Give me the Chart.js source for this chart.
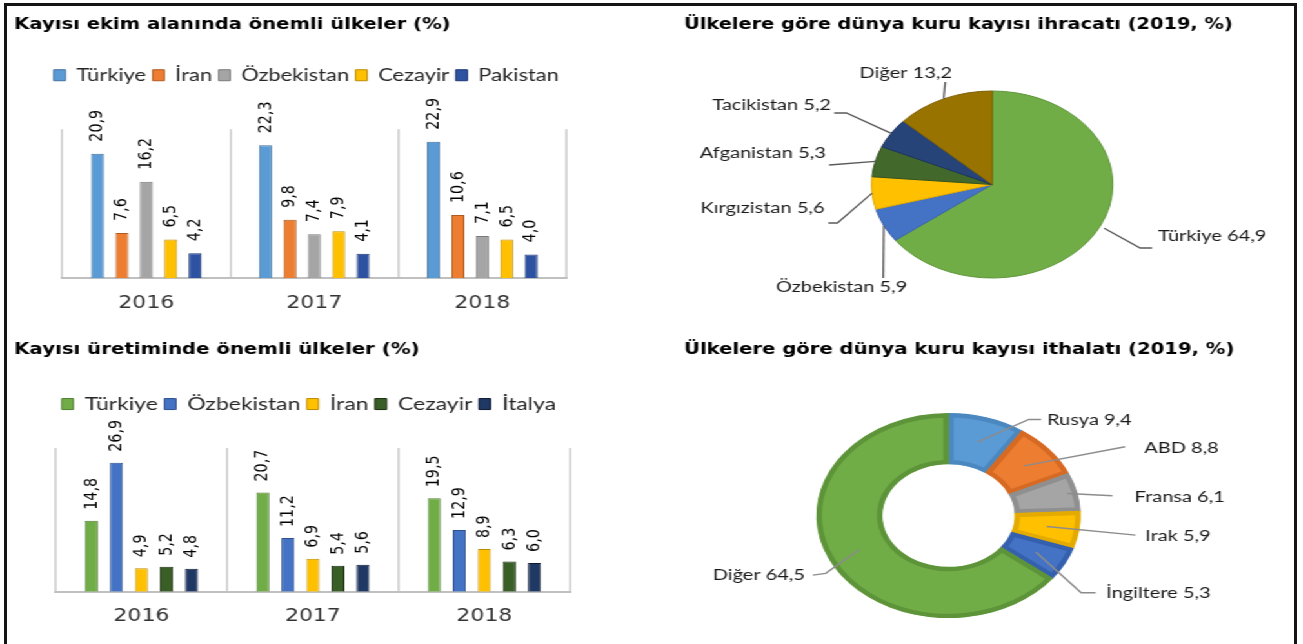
<!DOCTYPE html>
<html><head><meta charset="utf-8">
<script src="https://cdn.jsdelivr.net/npm/chart.js@4.4.1/dist/chart.umd.min.js"></script>
<style>
html,body{margin:0;padding:0;background:#fff;overflow:hidden;width:1303px;height:644px;}
#stage{position:absolute;left:0;top:0;width:1010px;height:700px;transform:scaleX(1.29);transform-origin:0 0;}
#stage canvas{position:absolute;}
#frame{position:absolute;left:4px;top:3px;width:1293px;height:720px;border:3px solid #141414;box-sizing:border-box;pointer-events:none;}
</style></head><body>
<div id="stage">
<canvas id="c1" width="464" height="320" style="left:0px;top:0px"></canvas>
<canvas id="c3" width="468" height="324" style="left:0px;top:320px"></canvas>
<canvas id="c2" width="504" height="330" style="left:503.9px;top:0px"></canvas>
<canvas id="c4" width="504" height="347" style="left:503.9px;top:320px"></canvas>
</div>
<div id="frame"></div>
<script>
// ---------- DATA ----------
const years = ['2016', '2017', '2018'];

const ekimCountries = ['Türkiye', 'İran', 'Özbekistan', 'Cezayir', 'Pakistan'];
const ekimTurkiye    = [20.9, 22.3, 22.9];
const ekimIran       = [7.6, 9.8, 10.6];
const ekimOzbekistan = [16.2, 7.4, 7.1];
const ekimCezayir    = [6.5, 7.9, 6.5];
const ekimPakistan   = [4.2, 4.1, 4.0];

const uretimCountries = ['Türkiye', 'Özbekistan', 'İran', 'Cezayir', 'İtalya'];
const uretimTurkiye    = [14.8, 20.7, 19.5];
const uretimOzbekistan = [26.9, 11.2, 12.9];
const uretimIran       = [4.9, 6.9, 8.9];
const uretimCezayir    = [5.2, 5.4, 6.3];
const uretimItalya     = [4.8, 5.6, 6.0];

const ihracatLabels = ['Türkiye', 'Özbekistan', 'Kırgızistan', 'Afganistan', 'Tacikistan', 'Diğer'];
const ihracatValues = [64.9, 5.9, 5.6, 5.3, 5.2, 13.2];

const ithalatLabels = ['Rusya', 'ABD', 'Fransa', 'Irak', 'İngiltere', 'Diğer'];
const ithalatValues = [9.4, 8.8, 6.1, 5.9, 5.3, 64.5];

const titles = [
  'Kayısı ekim alanında önemli ülkeler (%)',
  'Ülkelere göre dünya kuru kayısı ihracatı (2019, %)',
  'Kayısı üretiminde önemli ülkeler (%)',
  'Ülkelere göre dünya kuru kayısı ithalatı (2019, %)'
];

// ---------- STYLES ----------
const fmt = v => v.toFixed(1).replace('.', ',');
const titleFont = size => ({family: 'DejaVu Sans', size: size, weight: 'bold', lineHeight: 1.2});

const barLabelPlugin = {
  id: 'barLabels',
  afterDatasetsDraw(chart, args, opts) {
    const ctx = chart.ctx;
    ctx.save();
    ctx.font = opts.font;
    ctx.fillStyle = '#000';
    ctx.textAlign = 'left';
    ctx.textBaseline = 'middle';
    chart.data.datasets.forEach((ds, di) => {
      chart.getDatasetMeta(di).data.forEach((bar, i) => {
        ctx.save();
        ctx.translate(bar.x, bar.y - opts.gap);
        ctx.rotate(-Math.PI / 2);
        ctx.fillText(fmt(ds.data[i]), 0, 0);
        ctx.restore();
      });
    });
    ctx.restore();
  }
};

function barChart(id, title, names, series, fills, edges, L) {
  return new Chart(document.getElementById(id), {
    type: 'bar',
    data: {
      labels: years,
      datasets: series.map((vals, i) => ({
        label: names[i], data: vals,
        backgroundColor: fills[i], borderColor: edges[i], borderWidth: 1,
        categoryPercentage: L.cp, barPercentage: L.bp
      }))
    },
    options: {
      responsive: false, animation: false, devicePixelRatio: 1,
      layout: {padding: {left: 11, right: 0, top: 0, bottom: 0}},
      scales: {
        x: {
          position: 'bottom',
          grid: {color: '#D6D6D6', lineWidth: 2, drawTicks: false, offset: true},
          border: {color: '#C0C0C0', width: 2},
          ticks: {font: {family: 'DejaVu Sans', size: 17}, color: '#333', padding: L.tickPad, maxRotation: 0},
          afterFit: s => { s.height = L.xh; }
        },
        xTop: {
          type: 'category', position: 'top',
          grid: {display: false}, border: {display: false}, ticks: {display: false},
          afterFit: s => { s.height = L.topGap; }
        },
        y: {
          position: 'left', min: 0, max: L.max,
          grid: {display: false}, border: {display: false}, ticks: {display: false},
          afterFit: s => { s.width = L.yw; }
        },
        y2: {
          type: 'linear', position: 'right',
          grid: {display: false}, border: {display: false}, ticks: {display: false},
          afterFit: s => { s.width = L.rw; }
        }
      },
      plugins: {
        title: {display: true, text: title, align: 'start', color: '#000', font: titleFont(L.titleSize),
                padding: {top: L.titleTop, bottom: L.titleBottom}},
        legend: {position: 'top', align: 'center',
                 labels: {boxWidth: 9, boxHeight: 11, padding: 5, color: '#262626',
                          font: {family: 'Lato', size: L.legendSize}}},
        tooltip: {enabled: false},
        barLabels: {gap: L.gap, font: '14.3px "DejaVu Sans"'}
      }
    },
    plugins: [barLabelPlugin]
  });
}

barChart('c1', titles[0], ekimCountries,
  [ekimTurkiye, ekimIran, ekimOzbekistan, ekimCezayir, ekimPakistan],
  ['#5B9BD5', '#ED7D31', '#A5A5A5', '#FFC000', '#2D52A2'],
  ['#41719C', '#AE5A21', '#7A7A7A', '#BC8C00', '#1C3673'],
  {cp: 0.726, bp: 0.534, max: 25, yw: 37.3, rw: 25, xh: 41.7, topGap: 35.5,
   titleTop: 16, titleBottom: 27.5, tickPad: 15, gap: 12, titleSize: 15.2, legendSize: 17});

barChart('c3', titles[2], uretimCountries,
  [uretimTurkiye, uretimOzbekistan, uretimIran, uretimCezayir, uretimItalya],
  ['#70AD47', '#4472C4', '#FFC000', '#3A5F26', '#203864'],
  ['#507E32', '#2F528F', '#BC8C00', '#1A2B10', '#0D1A30'],
  {cp: 0.73, bp: 0.52, max: 30, yw: 32.2, rw: 26.1, xh: 52.3, topGap: 25,
   titleTop: 21, titleBottom: 30.8, tickPad: 15, gap: 11, titleSize: 15.3, legendSize: 17.8});

// ---------- PIE LABELS ----------
function pieLabelPlugin(layout) {
  return {
    id: 'pieLabels',
    afterDraw(chart) {
      const ctx = chart.ctx;
      const ds = chart.data.datasets[0];
      ctx.save();
      chart.getDatasetMeta(0).data.forEach((arc, i) => {
        const L = layout.items[i];
        const p = arc.getProps(['x', 'y', 'startAngle', 'endAngle', 'innerRadius', 'outerRadius'], true);
        const mid = (p.startAngle + p.endAngle) / 2;
        const r = p.innerRadius + (p.outerRadius - p.innerRadius) * L.from;
        ctx.beginPath();
        ctx.moveTo(p.x + Math.cos(mid) * r, p.y + Math.sin(mid) * r);
        L.path.forEach(([dx, dy]) => ctx.lineTo(p.x + dx, p.y + dy));
        ctx.strokeStyle = layout.line;
        ctx.lineWidth = layout.lineWidth;
        ctx.stroke();
        ctx.fillStyle = layout.color;
        ctx.font = layout.font;
        ctx.textAlign = L.align;
        ctx.textBaseline = 'middle';
        ctx.fillText(chart.data.labels[i] + ' ' + fmt(ds.data[i]), p.x + L.text[0], p.y + L.text[1]);
      });
      ctx.restore();
    }
  };
}

const ihracatLabelLayout = {
  line: '#595959', lineWidth: 1.3, color: '#1A1A1A', font: '15.5px Lato',
  items: [
    {from: 1.04, path: [[114.7, 63.5], [124, 63.5]], text: [128.7, 51.5], align: 'left'},
    {from: 1.0, path: [[-84.5, 93.5]], text: [-116.7, 102.5], align: 'center'},
    {from: 1.0, path: [[-120, 38.5], [-127, 38.5]], text: [-130, 23.5], align: 'right'},
    {from: 1.0, path: [[-126.4, -19.5]], text: [-129, -31.5], align: 'right'},
    {from: 1.0, path: [[-113, -71.5], [-122.5, -71.5]], text: [-125, -79.5], align: 'right'},
    {from: 1.0, path: [[-36.4, -102.5]], text: [-67, -111.5], align: 'center'}
  ]
};

const ithalatLabelLayout = {
  line: '#8C8C8C', lineWidth: 1.5, color: '#1A1A1A', font: '15.5px Lato',
  items: [
    {from: 0.5, path: [[62.2, -96.2], [71.8, -96.2]], text: [76.4, -95.5], align: 'left'},
    {from: 0.5, path: [[136.9, -68.8]], text: [151.6, -67.5], align: 'left'},
    {from: 0.85, path: [[127.1, -19.8]], text: [144.3, -18.8], align: 'left'},
    {from: 0.5, path: [[145, 19.5]], text: [152.4, 20.5], align: 'left'},
    {from: 0.5, path: [[102.8, 77.2], [114.1, 77.2]], text: [122.2, 77.8], align: 'left'},
    {from: 0.5, path: [[-95.2, 57.8], [-105.2, 59.5]], text: [-111.2, 59.5], align: 'right'}
  ]
};

new Chart(document.getElementById('c2'), {
  type: 'pie',
  data: {
    labels: ihracatLabels,
    datasets: [{
      data: ihracatValues, radius: 93.5,
      backgroundColor: ['#70AD47', '#4472C4', '#FFC000', '#43682B', '#264478', '#997300'],
      borderColor: ['#5E9639', '#3A63AE', '#E0A800', '#34521F', '#1B3360', '#7E5E00'],
      borderWidth: 1
    }]
  },
  options: {
    responsive: false, animation: false, devicePixelRatio: 1,
    layout: {padding: {left: 26.3, right: 0, top: 0, bottom: 0}},
    plugins: {
      legend: {display: false}, tooltip: {enabled: false},
      title: {display: true, text: titles[1], align: 'start', color: '#000', font: titleFont(15),
              padding: {top: 16, bottom: 5}}
    }
  },
  plugins: [pieLabelPlugin(ihracatLabelLayout)]
});

new Chart(document.getElementById('c4'), {
  type: 'doughnut',
  data: {
    labels: ithalatLabels,
    datasets: [{
      data: ithalatValues, radius: 102.5, cutout: '50%',
      backgroundColor: ['#5B9BD5', '#ED7D31', '#A5A5A5', '#FFC000', '#4472C4', '#70AD47'],
      borderColor: ['#4B88C0', '#D66A22', '#8F8F8F', '#E3AA00', '#3560AE', '#5E9439'],
      borderWidth: 4, borderAlign: 'inner'
    }]
  },
  options: {
    responsive: false, animation: false, devicePixelRatio: 1,
    cutout: '50%',
    layout: {padding: {left: 26.3, right: 0, top: 0, bottom: 0}},
    scales: {
      side: {
        type: 'linear', position: 'right', display: true,
        grid: {display: false}, border: {display: false}, ticks: {display: false},
        afterFit: s => { s.width = 67.7; }
      }
    },
    plugins: {
      legend: {display: false}, tooltip: {enabled: false},
      title: {display: true, text: titles[3], align: 'start', color: '#000', font: titleFont(15.2),
              padding: {top: 21, bottom: 5}}
    }
  },
  plugins: [pieLabelPlugin(ithalatLabelLayout)]
});
</script>
</body></html>
